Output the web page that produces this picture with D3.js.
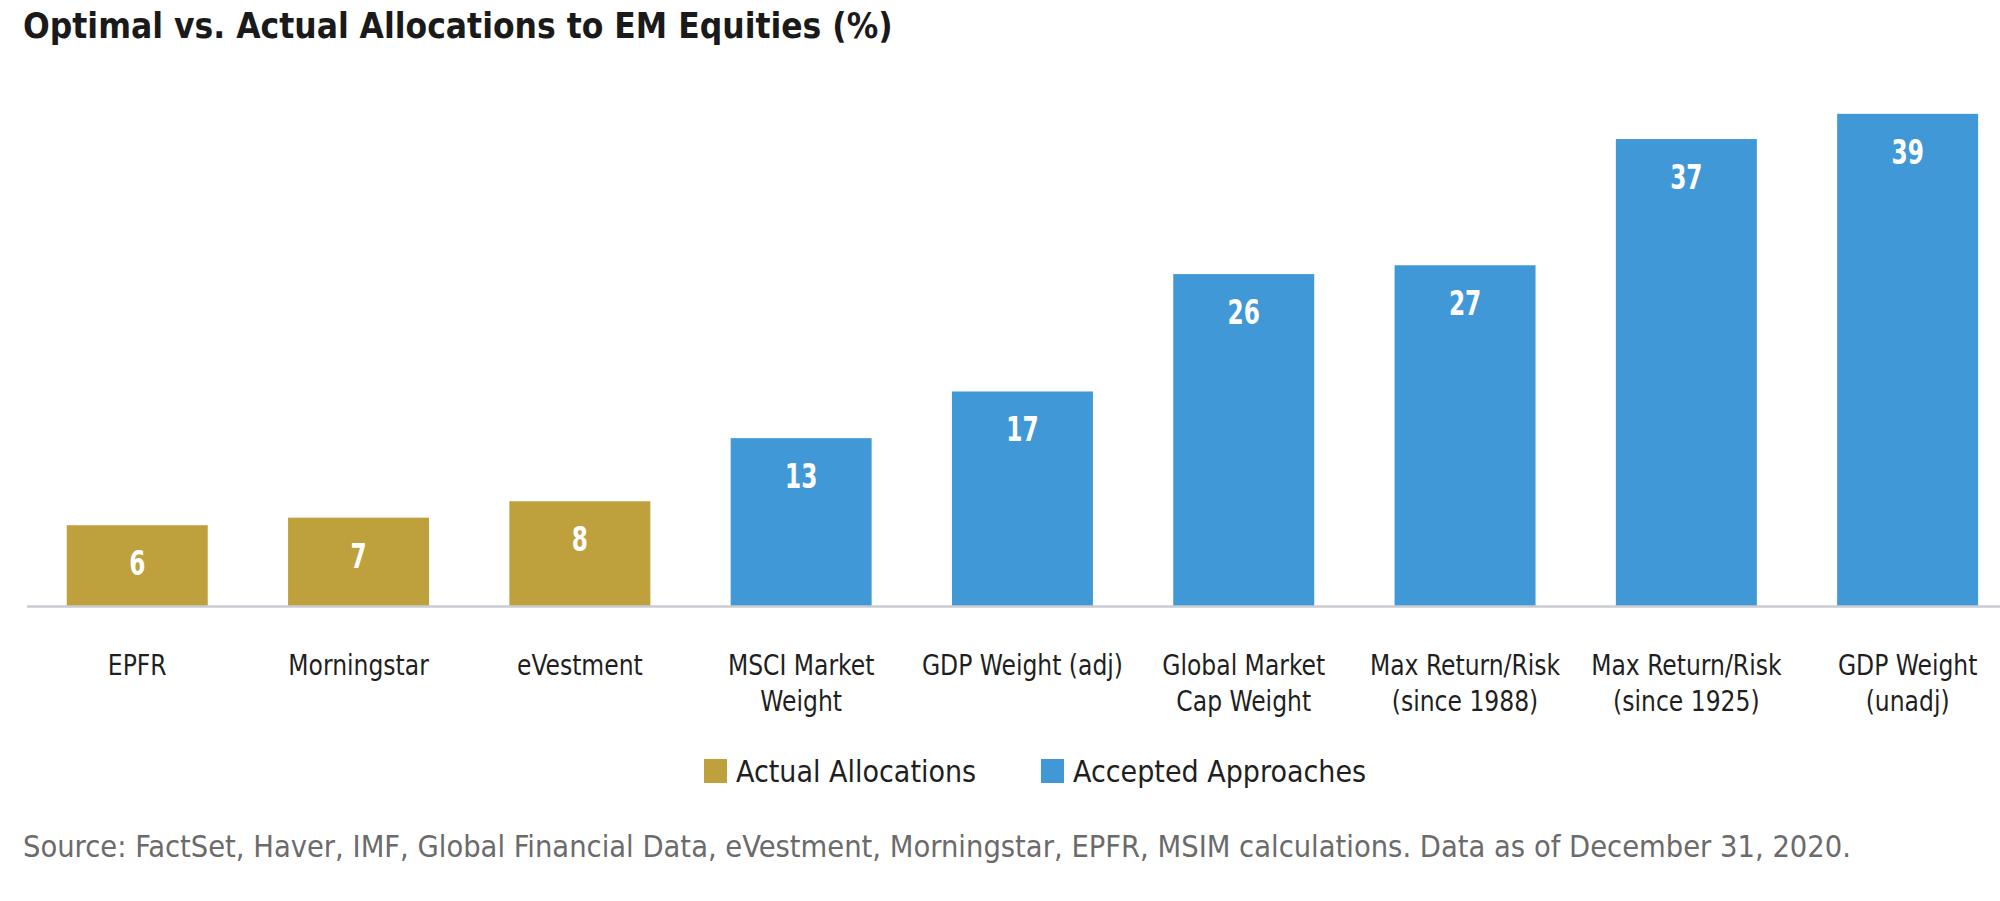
<!DOCTYPE html>
<html>
<head>
<meta charset="utf-8">
<script src="https://cdn.jsdelivr.net/npm/d3@7"></script>
<style>
  body { margin: 0; background: #fff; }
  svg { display: block; }
</style>
</head>
<body>
<script>
const width = 2000,
  height = 901;

// Data (values in %)
const categories = [
  "EPFR", "Morningstar", "eVestment", "MSCI Market Weight", "GDP Weight (adj)",
  "Global Market Cap Weight", "Max Return/Risk (since 1988)",
  "Max Return/Risk (since 1925)", "GDP Weight (unadj)"
];
const tickLines = [
  ["EPFR"], ["Morningstar"], ["eVestment"], ["MSCI Market", "Weight"],
  ["GDP Weight (adj)"], ["Global Market", "Cap Weight"],
  ["Max Return/Risk", "(since 1988)"], ["Max Return/Risk", "(since 1925)"],
  ["GDP Weight", "(unadj)"]
];
const values = [6.4, 7.0, 8.3, 13.3, 17.0, 26.3, 27.0, 37.0, 39.0];
const groups = ["Actual", "Actual", "Actual", "Accepted", "Accepted",
  "Accepted", "Accepted", "Accepted", "Accepted"];
const seriesNames = ["Actual Allocations", "Accepted Approaches"];
const seriesKeys = ["Actual", "Accepted"];

const title = "Optimal vs. Actual Allocations to EM Equities (%)";
const source = "Source: FactSet, Haver, IMF, Global Financial Data, eVestment, Morningstar, EPFR, MSIM calculations. Data as of December 31, 2020.";

const data = categories.map((c, i) => ({
  name: c, value: values[i], group: groups[i], lines: tickLines[i]
}));

const narrow = "'Liberation Sans Narrow', 'DejaVu Sans Condensed', sans-serif";

const color = d3.scaleOrdinal()
  .domain(seriesKeys)
  .range(["#bea03c", "#4098d7"]);

const baseY = 606;

const xScale = d3.scaleBand()
  .domain(categories)
  .range([26.6, 2018.3])
  .paddingInner(0.363)
  .paddingOuter(0.1815);

const yScale = d3.scaleLinear()
  .domain([0, 39])
  .range([baseY, baseY - 39 * 12.62]);

const svg = d3.select("body")
  .append("svg")
  .attr("width", width)
  .attr("height", height);

// title
svg.append("text")
  .attr("x", 23)
  .attr("y", 38)
  .attr("font-family", narrow)
  .attr("font-weight", "bold")
  .attr("font-size", 35)
  .attr("fill", "#1a1a1a")
  .text(title);

// bars
const bar = svg.append("g")
  .selectAll("g")
  .data(data)
  .enter()
  .append("g");

bar.append("rect")
  .attr("x", d => xScale(d.name))
  .attr("y", d => yScale(d.value))
  .attr("width", xScale.bandwidth())
  .attr("height", d => yScale(0) - yScale(d.value))
  .attr("fill", d => color(d.group));

// value labels, squeezed a bit to look like the condensed original
bar.append("text")
  .attr("transform", d =>
    `translate(${xScale(d.name) + xScale.bandwidth() / 2},${yScale(d.value) + 50}) scale(0.76,1)`)
  .attr("text-anchor", "middle")
  .attr("font-family", narrow)
  .attr("font-weight", "bold")
  .attr("font-size", 34)
  .attr("fill", "#fff")
  .text(d => d3.format(".0f")(d.value));

// x axis
const xAxis = d3.axisBottom(xScale).tickSize(0).tickPadding(0);

const axisG = svg.append("g")
  .attr("transform", `translate(0,${baseY})`)
  .call(xAxis);

axisG.select(".domain")
  .attr("stroke", "#c9cdd1")
  .attr("stroke-width", 2.5);

axisG.selectAll(".tick text")
  .attr("font-family", narrow)
  .attr("font-size", 29)
  .attr("fill", "#1f1f1f")
  .attr("transform", "scale(0.9,1)")
  .attr("y", 69)
  .attr("dy", null)
  .each(function(c) {
    const lines = tickLines[categories.indexOf(c)];
    const t = d3.select(this).text(null);
    lines.forEach((l, i) => {
      t.append("tspan")
        .attr("x", 0)
        .attr("dy", i === 0 ? 0 : 36.5)
        .text(l);
    });
  });

// legend
const legendX = [704, 1041];
const legend = svg.append("g")
  .selectAll("g")
  .data(seriesKeys)
  .enter()
  .append("g")
  .attr("transform", (d, i) => `translate(${legendX[i]},759)`);

legend.append("rect")
  .attr("width", 23)
  .attr("height", 24)
  .attr("fill", d => color(d));

legend.append("text")
  .attr("x", 32)
  .attr("y", 23)
  .attr("font-family", narrow)
  .attr("font-size", 30)
  .attr("fill", "#1f1f1f")
  .text((d, i) => seriesNames[i]);

// source note
svg.append("text")
  .attr("x", 23)
  .attr("y", 857)
  .attr("font-family", narrow)
  .attr("font-size", 30.5)
  .attr("fill", "#6b6b6b")
  .text(source);
</script>
</body>
</html>
